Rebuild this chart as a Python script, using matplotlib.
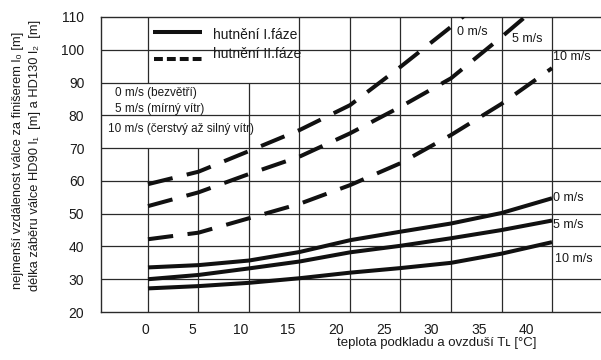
import matplotlib
matplotlib.use("Agg")
import matplotlib.pyplot as plt
from matplotlib.lines import Line2D

plt.rcParams["font.family"] = ["Liberation Sans", "DejaVu Sans"]

INK = "#111111"
GRID = "#2a2a2a"

# ---- data ------------------------------------------------------------------
# temperature of base and air [°C], values read on the 5 °C grid
temp = [0, 5, 10, 15, 20, 25, 30, 35, 40]

# phase I compaction (solid) - wind 0, 5, 10 m/s
solid_0 = [33.6, 34.3, 35.7, 38.3, 41.9, 44.5, 47.0, 50.2, 54.7]
solid_5 = [30.0, 31.3, 33.3, 35.4, 38.2, 40.2, 42.5, 45.0, 47.9]
solid_10 = [27.2, 27.9, 28.9, 30.3, 32.0, 33.4, 35.0, 37.8, 41.3]

# phase II compaction (dashed) - lines leave the chart through the top
dash_0 = [59.0, 62.8, 69.1, 75.5, 83.1, 94.8, 107.0, 120.0]
dash_5 = [52.3, 56.5, 62.1, 67.4, 74.5, 82.6, 91.3, 103.9, 117.0]
dash_10 = [42.2, 44.2, 48.6, 53.0, 58.7, 65.4, 74.0, 83.5, 94.4]

wind_labels = ["0 m/s", "5 m/s", "10 m/s"]
legend_labels = ["hutnění I.fáze", "hutnění II.fáze"]
wind_notes = ["0 m/s (bezvětří)", "5 m/s (mírný vítr)", "10 m/s (čerstvý až silný vítr)"]

x_ticks = [0, 5, 10, 15, 20, 25, 30, 35, 40]
y_ticks = [20, 30, 40, 50, 60, 70, 80, 90, 100, 110]

xlabel = "teplota podkladu a ovzduší Tʟ [°C]"
ylabel_1 = "nejmenší vzdálenost válce za finišerem l₀ [m]"
ylabel_2 = "délka záběru válce HD90 l₁  [m] a HD130 l₂  [m]"

# ---- figure ------------------------------------------------------------------
fig = plt.figure(figsize=(6.01, 3.60), dpi=100)
ax = fig.add_axes([101 / 601, 48 / 360, 500 / 601, 295 / 360])
ax.set_xlim(-4.65, 44.85)
ax.set_ylim(20, 110)

# printed tick labels sit on a slightly tighter scale than the grid
tick_pos = [-0.3 + 0.945 * v for v in x_ticks]
ax.set_xticks(tick_pos, [str(v) for v in x_ticks])
ax.set_yticks(y_ticks, [str(v) for v in y_ticks])
ax.tick_params(length=0, labelsize=10, colors="#1a1a1a")
ax.tick_params(axis="x", pad=8)
ax.tick_params(axis="y", pad=12)

ax.spines["right"].set_visible(False)
for side in ("left", "bottom", "top"):
    ax.spines[side].set_color(GRID)
    ax.spines[side].set_linewidth(1.0)

# grid: horizontal lines across, vertical lines broken by the legend cells
for y in y_ticks[1:-1]:
    ax.axhline(y, color=GRID, lw=0.9, zorder=1)
vgrid = {0: [(20, 70), (90, 110)], 5: [(20, 70)], 10: [(20, 90)]}
for x in x_ticks:
    for lo, hi in vgrid.get(x, [(20, 110)]):
        ax.plot([x, x], [lo, hi], color=GRID, lw=0.9, zorder=1,
                solid_capstyle="butt")

# curves
for vals in (solid_0, solid_5, solid_10):
    ax.plot(temp[:len(vals)], vals, color=INK, lw=2.9, zorder=3,
            solid_capstyle="butt", solid_joinstyle="round")
for vals in (dash_0, dash_5, dash_10):
    ax.plot(temp[:len(vals)], vals, color=INK, lw=2.9, zorder=3,
            linestyle=(0, (6.3, 3.6)), dash_capstyle="butt")

# end labels of the solid curves
solid_offsets = [(1, 0), (1, -3), (2, -12)]
for vals, lab, off in zip((solid_0, solid_5, solid_10), wind_labels, solid_offsets):
    ax.annotate(lab, (temp[len(vals) - 1], vals[-1]), xytext=off,
                textcoords="offset points", ha="left", va="center",
                fontsize=9, color="#1a1a1a")

# labels of the dashed curves near the top frame
dash_label_pos = [(30.6, 105.4), (36.0, 103.3), (40.1, 97.8)]
for (lx, ly), lab in zip(dash_label_pos, wind_labels):
    ax.text(lx, ly, lab, ha="left", va="center", fontsize=9, color="#1a1a1a",
            zorder=4)

# legend drawn in the top-left cells
def ax_x(px):
    return (px - 101) / 500


def ax_y(py):
    return (312 - py) / 295


ax.add_line(Line2D([ax_x(153), ax_x(202)], [ax_y(32), ax_y(32)],
                   transform=ax.transAxes, color=INK, lw=2.9,
                   solid_capstyle="butt"))
ax.add_line(Line2D([ax_x(154), ax_x(202)], [ax_y(59), ax_y(59)],
                   transform=ax.transAxes, color=INK, lw=2.9,
                   linestyle=(0, (2.2, 1.0)), dash_capstyle="butt"))
ax.text(ax_x(213), ax_y(35), legend_labels[0], transform=ax.transAxes,
        fontsize=10, va="center", ha="left", color="#1a1a1a")
ax.text(ax_x(213), ax_y(54), legend_labels[1], transform=ax.transAxes,
        fontsize=10, va="center", ha="left", color="#1a1a1a")

for (px, py), note in zip([(115, 93), (115, 109), (108, 129)], wind_notes):
    ax.text(ax_x(px), ax_y(py), note, transform=ax.transAxes,
            fontsize=8.5, va="center", ha="left", color="#1a1a1a")

# axis titles
fig.text(437 / 601, 1 - 343 / 360, xlabel, ha="center", va="center",
         fontsize=9.5, color="#1a1a1a")
fig.text(18 / 601, 1 - 160 / 360, ylabel_1, rotation=90, ha="center",
         va="center", fontsize=9.3, color="#1a1a1a")
fig.text(35 / 601, 1 - 155 / 360, ylabel_2, rotation=90, ha="center",
         va="center", fontsize=9.3, color="#1a1a1a")

fig.savefig("out.png", dpi=100)
